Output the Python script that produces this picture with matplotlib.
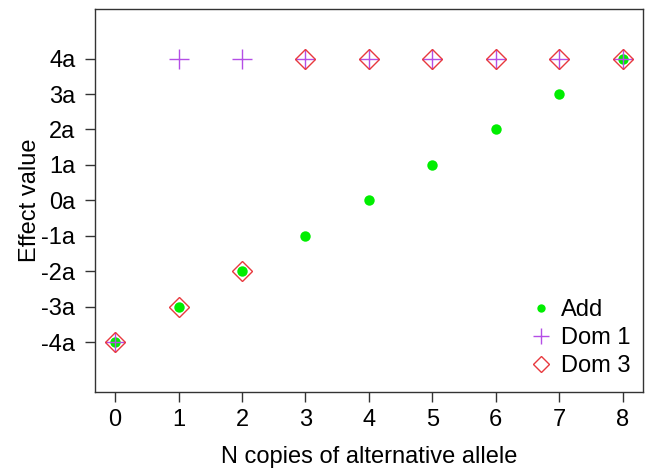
import numpy as np
import matplotlib
matplotlib.use("Agg")
from matplotlib import pyplot as plt

# Data
n_copies = [0, 1, 2, 3, 4, 5, 6, 7, 8]
add_vals = [-4, -3, -2, -1, 0, 1, 2, 3, 4]
dom1_vals = [-4, 4, 4, 4, 4, 4, 4, 4, 4]
dom3_vals = [-4, -3, -2, 4, 4, 4, 4, 4, 4]
y_ticks = [-4, -3, -2, -1, 0, 1, 2, 3, 4]
y_labels = ["-4a", "-3a", "-2a", "-1a", "0a", "1a", "2a", "3a", "4a"]

plt.rcParams['font.family'] = ['Liberation Sans', 'DejaVu Sans']

fig = plt.figure(figsize=(6.45, 4.71), dpi=100)
ax = fig.add_axes([0.147, 0.168, 0.850, 0.813])

ax.plot(n_copies, add_vals, 'o', color='#00EE00', ms=7.5, mec='none', label='Add')
ax.plot(n_copies, dom1_vals, '+', color='#B44EE6', ms=15, mew=1.0, label='Dom 1')
ax.plot(n_copies, dom3_vals, 'D', color='#E8393E', ms=10.5, mew=1.0, mfc='none', label='Dom 3')

ax.set_xlim(-0.32, 8.32)
ax.set_ylim(-5.4, 5.4)
ax.set_xticks(n_copies)
ax.set_yticks(y_ticks)
ax.set_yticklabels(y_labels)
ax.tick_params(axis='both', labelsize=17, length=7, width=1, color='#333333')
ax.tick_params(axis='x', pad=5)
ax.tick_params(axis='y', pad=7)
for s in ax.spines.values():
    s.set_color('#333333')
    s.set_linewidth(1.0)

ax.set_xlabel("N copies of alternative allele", fontsize=17, labelpad=11)
ax.set_ylabel("Effect value", fontsize=17, labelpad=0)

ax.legend(loc='lower right', frameon=False, fontsize=17, handletextpad=0.35,
          labelspacing=0.25, handlelength=1.0, borderaxespad=0.0, markerscale=0.8,
          bbox_to_anchor=(0.995, 0.014))

fig.savefig("out.png", dpi=100)
